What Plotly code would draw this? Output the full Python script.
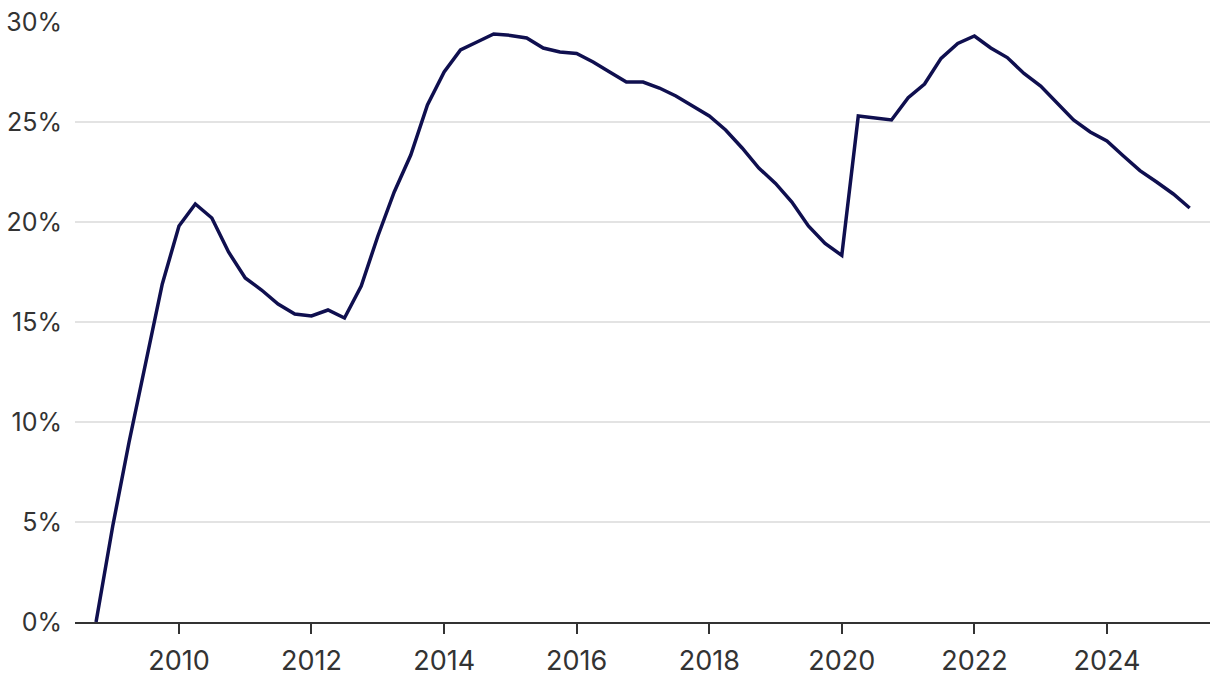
import pandas as pd
import plotly.graph_objects as go

# Quarterly observations, first quarter 2008-Q4 through 2025-Q2
start_date = "2008-10-01"
n_points = 67
values = [
    0.0, 4.8, 9.0, 13.0, 16.9, 19.8, 20.9, 20.2, 18.5, 17.2,
    16.6, 15.9, 15.4, 15.3, 15.6, 15.2, 16.8, 19.3, 21.5, 23.35,
    25.85, 27.5, 28.6, 29.0, 29.4, 29.33, 29.2, 28.7, 28.5, 28.43,
    28.0, 27.5, 27.0, 27.0, 26.7, 26.3, 25.8, 25.3, 24.6, 23.7,
    22.7, 21.93, 21.0, 19.8, 18.93, 18.33, 25.3, 25.22, 25.1, 26.22,
    26.9, 28.18, 28.93, 29.3, 28.7, 28.22, 27.43, 26.8, 25.95, 25.1,
    24.5, 24.05, 23.3, 22.57, 22.0, 21.4, 20.7,
]
dates = pd.date_range(start_date, periods=n_points, freq="QS")

y_ticks = [0, 5, 10, 15, 20, 25, 30]
y_tick_labels = ["0%", "5%", "10%", "15%", "20%", "25%", "30%"]

LINE_COLOR = "#0f0f4f"
TEXT_COLOR = "#333333"
FONT = "Inter, Liberation Sans, Arial, sans-serif"

fig = go.Figure()
fig.add_trace(go.Scatter(
    x=dates, y=values, mode="lines",
    line=dict(color=LINE_COLOR, width=3.5),
    hoverinfo="x+y", showlegend=False,
))

fig.update_layout(
    width=1220, height=682,
    margin=dict(l=75, r=10, t=22, b=60),
    paper_bgcolor="white", plot_bgcolor="white",
    font=dict(family=FONT, size=25, color=TEXT_COLOR),
    showlegend=False,
)
fig.update_xaxes(
    type="date", automargin=False,
    range=["2008-06-07", "2025-07-22"],
    tick0="2010-01-01", dtick="M24", tickformat="%Y",
    showgrid=False, zeroline=False,
    showline=True, linecolor=TEXT_COLOR, linewidth=2,
    ticks="outside", ticklen=10, tickwidth=2, tickcolor=TEXT_COLOR,
    ticklabelstandoff=4, ticklabeloverflow="allow",
    tickfont=dict(family=FONT, size=27, color=TEXT_COLOR),
)
fig.update_yaxes(
    range=[0, 30], automargin=False,
    tickmode="array", tickvals=y_ticks, ticktext=y_tick_labels,
    showgrid=True, gridcolor="#e3e3e3", gridwidth=1.5,
    zeroline=False, showline=False, ticks="",
    ticklabelstandoff=12, ticklabeloverflow="allow",
    tickfont=dict(family=FONT, size=25, color=TEXT_COLOR),
)

# remove the browser's default 8px body margin so the figure fills the window
fig.write_html(
    "out.html",
    config={"displayModeBar": False},
    post_script="document.body.style.margin='0';document.body.style.overflow='hidden';",
)
